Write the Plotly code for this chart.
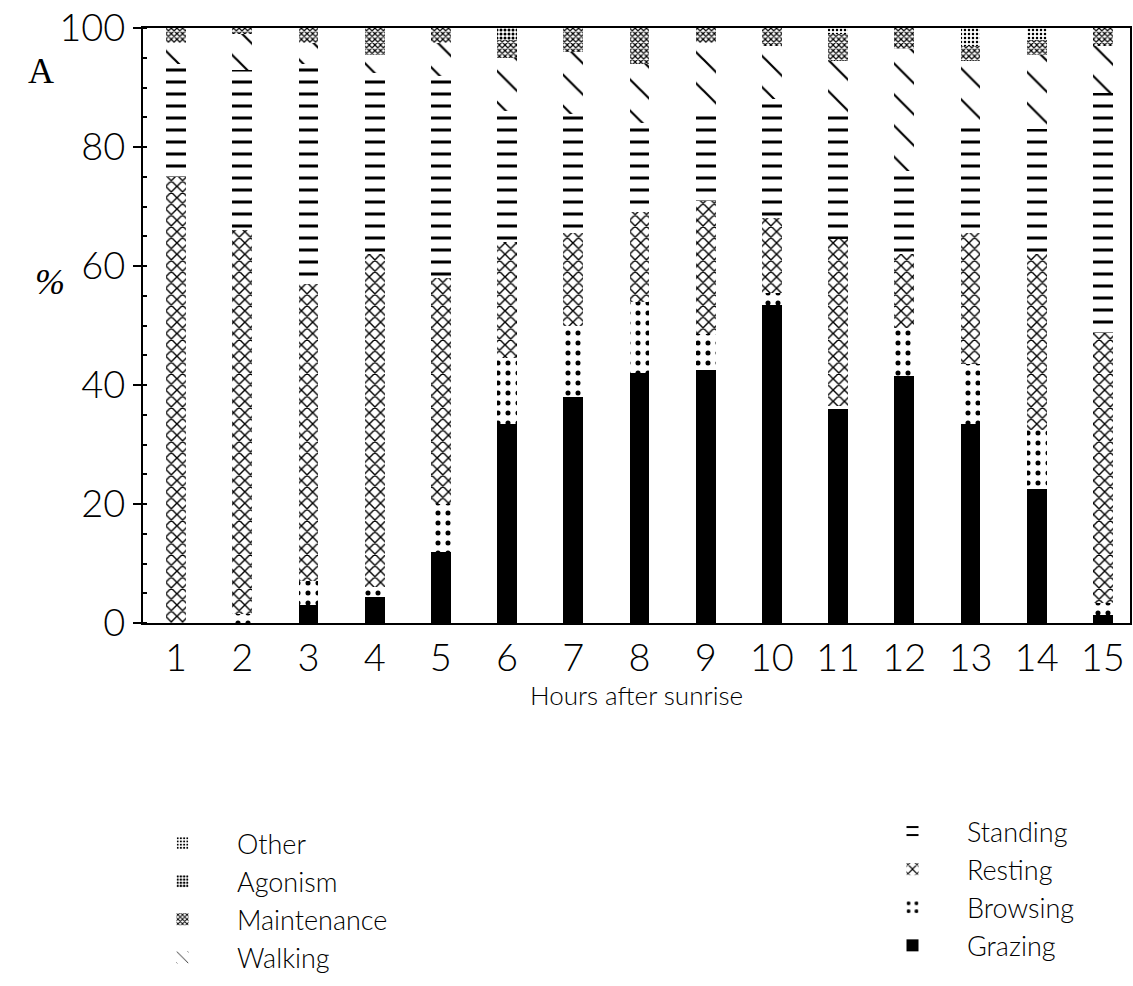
import plotly.graph_objects as go

hours = [str(h) for h in range(1, 16)]

grazing = [0, 0, 3, 4.4, 12, 33.5, 38, 42, 42.5, 53.5, 36, 41.5, 33.5, 22.5, 1.3]
browsing = [0, 1.5, 4, 1.6, 8, 11, 12, 12, 6, 2, 0.5, 8, 10, 10, 2]
resting = [75, 64.5, 50, 56, 38, 19.5, 15.5, 15, 22.5, 12.5, 28, 12.5, 22, 29.5, 45.4]
standing = [19, 27, 37, 30.5, 34, 22, 20, 15, 15.5, 20, 21, 14, 19, 21, 40.3]
walking = [3.5, 6, 3.5, 3, 5.5, 9, 10.5, 10, 11, 9, 9, 20.5, 10, 12.5, 8]
maintenance = [2.5, 1, 2.5, 4.5, 2.5, 3, 4, 6, 2.5, 3, 4.5, 3.5, 2.5, 2.5, 3]
agonism = [0, 0, 0, 0, 0, 2, 0, 0, 0, 0, 0, 0, 0, 0, 0]
other = [0, 0, 0, 0, 0, 0, 0, 0, 0, 0, 1, 0, 3, 2, 0]

y_ticks = [0, 20, 40, 60, 80, 100]

FONT = "Lato"
WEIGHT = 300

# (name, values, pattern shape, pattern size, solidity, legend)
series = [
    ("Grazing", grazing, "", 8, 1.0, "legend2"),
    ("Browsing", browsing, ".", 10, 0.2, "legend2"),
    ("Resting", resting, "x", 8, 0.32, "legend2"),
    ("Standing", standing, "-", 12, 0.25, "legend2"),
    ("Walking", walking, "\\", 22, 0.1, "legend"),
    ("Maintenance", maintenance, "x", 4, 0.5, "legend"),
    ("Agonism", agonism, ".", 4, 0.45, "legend"),
    ("Other", other, ".", 4, 0.3, "legend"),
]

fig = go.Figure()
for name, vals, shape, size, solid, leg in series:
    if shape == "":
        marker = dict(color="black", line=dict(width=0))
    else:
        marker = dict(
            color="white",
            line=dict(width=0),
            pattern=dict(shape=shape, size=size, solidity=solid,
                         fgcolor="black", bgcolor="white", fillmode="replace"),
        )
    fig.add_trace(go.Bar(x=hours, y=vals, name=name, marker=marker,
                         width=0.3, legend=leg))

legend_common = dict(
    xref="container", yref="container",
    xanchor="left", yanchor="top", traceorder="reversed",
    font=dict(size=27, family=FONT, weight=WEIGHT), itemwidth=99,
    bgcolor="rgba(0,0,0,0)", tracegroupgap=0,
)

fig.update_layout(
    barmode="stack",
    width=1133,
    height=986,
    margin=dict(l=143, r=3, t=28, b=363, autoexpand=False),
    paper_bgcolor="white",
    plot_bgcolor="white",
    font=dict(family=FONT, color="black", size=26, weight=WEIGHT),
    legend=dict(legend_common, x=128 / 1133, y=1 - 819 / 986),
    legend2=dict(legend_common, x=858 / 1133, y=1 - 807 / 986),
)

fig.update_xaxes(
    type="category",
    tickvals=hours,
    range=[-0.5, 14.41],
    showline=True, linecolor="black", linewidth=2, mirror=True,
    ticks="", tickfont=dict(size=38, family=FONT, weight=WEIGHT),
    title=dict(text="Hours after sunrise",
               font=dict(size=26, family=FONT, weight=WEIGHT), standoff=0),
    showgrid=False, zeroline=False,
)
fig.update_yaxes(
    range=[0, 100],
    tickvals=y_ticks,
    showline=True, linecolor="black", linewidth=2, mirror=True,
    ticks="outside", ticklen=8, tickwidth=2, tickcolor="black",
    tickfont=dict(size=38, family=FONT, weight=WEIGHT),
    minor=dict(dtick=5, ticks="inside", ticklen=4, tickcolor="black"),
    showgrid=False, zeroline=False,
)

fig.add_annotation(text="A", xref="paper", yref="paper", x=-0.1185, y=0.965,
                   showarrow=False, font=dict(family="Liberation Serif", size=36, weight=300))
fig.add_annotation(text="<i>%</i>", xref="paper", yref="paper", x=-0.111, y=0.573,
                   showarrow=False, font=dict(family="Liberation Serif", size=36, weight=300))

fig.write_html("out.html")
